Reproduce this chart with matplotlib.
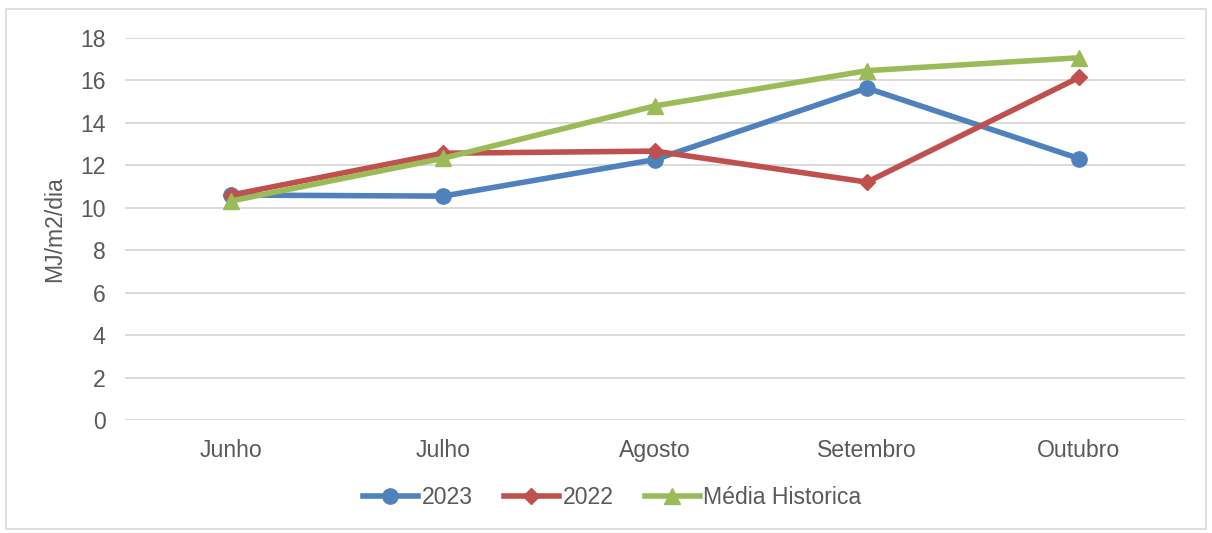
import matplotlib
matplotlib.use("Agg")
import matplotlib.pyplot as plt
from matplotlib.patches import Rectangle

categories = ["Junho", "Julho", "Agosto", "Setembro", "Outubro"]
s2023 = [10.6, 10.55, 12.27, 15.64, 12.32]
s2022 = [10.6, 12.57, 12.67, 11.21, 16.14]
media = [10.32, 12.33, 14.8, 16.46, 17.07]
yticks = [0, 2, 4, 6, 8, 10, 12, 14, 16, 18]

plt.rcParams['font.family'] = ['Liberation Sans', 'DejaVu Sans']
W, H = 1212, 533
fs = 16.6
fig = plt.figure(figsize=(W/100, H/100), dpi=100)
ax = fig.add_axes([125/W, 1-420/H, (1185-125)/W, (420-38)/H])

x = list(range(len(categories)))
ax.plot(x, s2023, color='#4F81BD', lw=4.0, marker='o', ms=11, label='2023', zorder=3)
ax.plot(x, s2022, color='#C0504D', lw=4.0, marker='D', ms=8.5, label='2022', zorder=4)
ax.plot(x, media, color='#9BBB59', lw=4.0, marker='^', ms=12, label='Média Historica', zorder=5)

ax.set_xlim(-0.5, 4.5)
ax.set_ylim(0, 18)
ax.set_yticks(yticks)
ax.set_xticks(x)
ax.set_xticklabels(categories)
for s in ax.spines.values():
    s.set_visible(False)
ax.grid(axis='y', color='#D9D9D9', lw=1.3)
ax.set_axisbelow(True)
ax.tick_params(axis='both', length=0, labelsize=fs, colors='#595959')
ax.tick_params(axis='y', pad=14)
ax.tick_params(axis='x', pad=14)
ax.set_ylabel('MJ/m2/dia', fontsize=fs, color='#595959', labelpad=10)

leg = fig.legend(loc='center', bbox_to_anchor=(0.505, 1-498/H), ncol=3, frameon=False,
                 fontsize=fs, handlelength=2.4, columnspacing=1.35, handletextpad=0.15)
for t in leg.get_texts():
    t.set_color('#595959')

fig.patches.append(Rectangle((6/W, 1-529/H), (1206-6)/W, (529-9)/H, transform=fig.transFigure,
                             fill=False, edgecolor='#D9D9D9', lw=1.2))
fig.savefig('out.png', dpi=100)
